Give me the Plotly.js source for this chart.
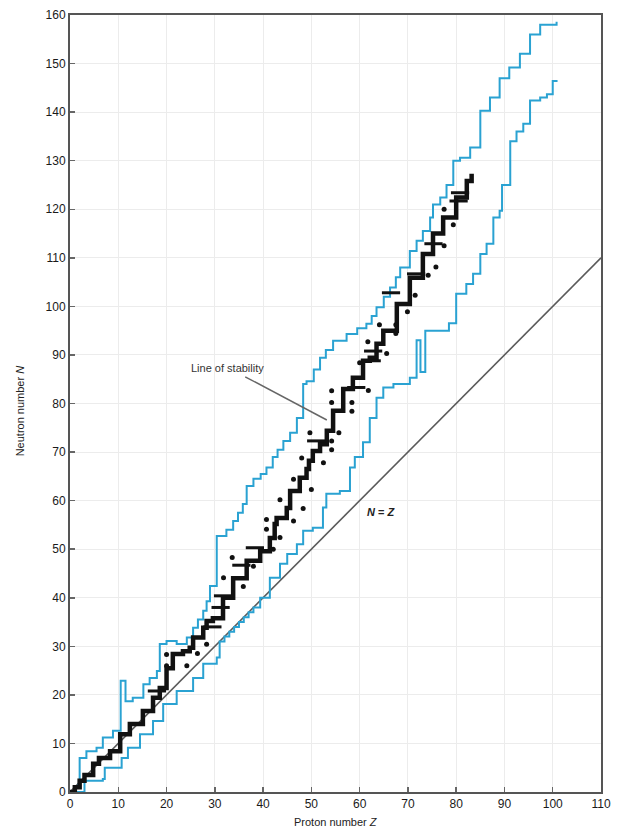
<!DOCTYPE html>
<html>
<head>
<meta charset="utf-8">
<script src="https://cdn.plot.ly/plotly-3.0.1.min.js"></script>
<style>html,body{margin:0;padding:0;background:#fff;}#chart{width:617px;height:831px;}</style>
</head>
<body>
<div id="chart"></div>
<script>
// Upper limit of known nuclides (blue)
var upperZ = [1.5,2,3.4,5.5,6.8,8.9,10.5,10.5,11.5,11.5,13,15.2,16.5,18,18.6,20,22.1,24.2,25.5,26.5,27.6,28.3,29,30.4,30.4,32.4,33.8,34.8,35.8,36.6,38,39.5,40.7,42,43,44.2,45.6,47,48.3,49,50.5,51.8,53,54.5,57.3,59.5,61.4,62.5,63.5,65,66.3,67.5,68.4,70.4,71.8,73.1,74.6,75.2,76.7,78,79.4,80.8,82.9,85,87,89,91,93.2,95.3,97.4,100.8];
var upperN = [1.5,7,8.4,9.1,11.2,12.6,14.6,22.9,22.9,18.7,19.4,22.2,23.5,24.9,30.5,31.1,30.5,31.8,33.8,35.5,37.3,39.3,42.4,46.2,52.7,54,55.8,57.5,59.3,63,64.5,65.5,66.8,69,70.5,72.3,74,77,84,84.6,87,89.4,91,92.9,94.3,95.5,96.4,98,99.8,102,103.9,106,108,111.4,113.5,115.5,118.3,121,122.4,125,130,130.6,132.7,140.3,143,147,149.2,152,156,158,158.6];

// Lower limit of known nuclides (blue)
var lowerZ = [1,3,6.8,7.2,10.7,12,14.5,17.2,19.3,22.1,25.5,27.6,30.4,31,32,33,34,35,36,37,38,39.4,41.4,43.5,45,47,48.3,50.3,52.4,53.1,55.9,58,59,60.7,62.1,63.5,64.9,67,70.4,71.8,71.8,72.6,72.6,73.6,73.6,77.3,78.5,80,80,82.1,83.5,85,86.3,87.7,89,89.5,91.2,91.2,92.5,93.9,95.3,97.4,98.8,100,101];
var lowerN = [0,2.3,2.7,5,7,9.1,11.9,14.6,18.1,20.8,23.5,26.4,27.7,31,32,33,34,35,36,37,38,40,44.1,47,49,51,53.8,54.4,58.6,61.4,62,66.8,69,72,77,81.2,83.3,84,85.3,86.7,93,93,86.5,86.5,95,95,96.5,97.7,102.6,104.6,106.7,110.8,112.9,118.3,119.7,125,125,134,136,137.6,142.4,143,143.7,146.4,146.4];

// Stable nuclides band (black staircase)
var stableZ = [0,1,2,3,4.8,6,8.3,10.4,12.4,15.1,17.2,18.6,20,21.3,23.4,24.8,25.5,27.6,28.3,29.6,31.7,31.7,33.8,36.6,39.4,41.4,42.4,42.8,44.9,45.6,47.6,49,49.5,50.3,51.8,53.2,54.5,56.6,58.6,60.7,62.1,63.5,64.9,67.7,70.4,73.1,75.2,77.3,80,82.2,83.2];
var stableN = [0,1,2.3,3.5,5.8,7,8.4,11.9,14,16.7,19.4,21.4,25.5,28.4,29,29.7,31.8,33.8,35.2,35.8,38.5,40,44,47.6,49.6,52.3,55.2,56.4,58.5,62,64.7,66.5,68.2,70.2,71.6,74.4,78.5,83,85.3,88.8,89.4,92.3,95,100.5,105.9,110.8,115,118.3,122.4,125.8,127.3];

// Isotone dashes on the band
var dashZ = [18,29.5,31.2,31.7,35.5,38.3,51,59.3,62.5,62.8,66.5,71.7,75.3,80.5,80.8];
var dashN = [20.8,34,38,40.4,46.7,50.3,72.3,83.3,88.8,90.8,102.8,106.7,112.9,121.7,123.4];

// Long-lived isotopes (dots)
var dotZ = [20,20,24.2,26.4,28.3,31.8,35.9,33.6,38,42.1,43.5,40.7,40.7,46.3,48.3,43.5,50,46.3,48,52.5,49.7,54.2,54.2,55.7,54.2,54.2,58.4,58.4,61.8,60,65.6,61.7,64.1,67.5,67.5,69.9,71.5,74.2,75.8,77.5,79.4,77.5];
var dotN = [28.3,26,26,28.5,30.4,44.1,42.3,48.3,46.5,50,52.4,54.1,56.1,55.8,58.4,60.2,62.3,64.4,68.8,67.8,74,72.3,70.5,74,80.2,82.6,80.2,78.4,82.7,88.4,90.3,92.7,96.2,96.2,94.4,98.9,102.3,106.4,108.1,112.5,116.8,120];

// N = Z reference
var nzZ = [0,110];
var nzN = [0,110];

var xTicks = [0,10,20,30,40,50,60,70,80,90,100,110];
var yTicks = [0,10,20,30,40,50,60,70,80,90,100,110,120,130,140,150,160];

var blue = '#2aa2d2';
var traces = [
  {x: nzZ, y: nzN, mode: 'lines', line: {color: '#5a5a5a', width: 1.6}, hoverinfo: 'skip'},
  {x: upperZ, y: upperN, mode: 'lines', line: {color: blue, width: 2, shape: 'hv'}},
  {x: lowerZ, y: lowerN, mode: 'lines', line: {color: blue, width: 2, shape: 'hv'}},
  {x: stableZ, y: stableN, mode: 'lines', line: {color: '#111', width: 4.5, shape: 'hv'}},
  {x: dashZ, y: dashN, mode: 'markers', marker: {symbol: 'line-ew', size: 13, line: {color: '#111', width: 3}}},
  {x: dotZ, y: dotN, mode: 'markers', marker: {symbol: 'circle', size: 5, color: '#111'}}
];

var font = {family: 'Liberation Sans, Arial, sans-serif', size: 12, color: '#1a1a1a'};
var layout = {
  width: 617, height: 831,
  margin: {l: 70, r: 16, t: 15, b: 39},
  paper_bgcolor: '#fff', plot_bgcolor: '#fff',
  showlegend: false,
  font: font,
  xaxis: {range: [0,110], tickvals: xTicks, ticktext: xTicks.map(String), ticks: 'inside', ticklen: 5, tickwidth: 1.5, tickcolor: '#666',
          showline: true, mirror: true, linecolor: '#555', linewidth: 2, showgrid: true, gridcolor: '#ececec', gridwidth: 1, zeroline: false, fixedrange: true},
  yaxis: {range: [0,160], tickvals: yTicks, ticktext: yTicks.map(String), ticks: 'inside', ticklen: 5, tickwidth: 1.5, tickcolor: '#666',
          showline: true, mirror: true, linecolor: '#555', linewidth: 2, showgrid: true, gridcolor: '#ececec', gridwidth: 1, zeroline: false, fixedrange: true},
  shapes: [
    {type: 'line', xref: 'x', yref: 'y', x0: 36.3, y0: 85.5, x1: 53.2, y1: 76.6, line: {color: '#666', width: 1.5}}
  ],
  annotations: [
    {xref: 'paper', yref: 'paper', x: -0.094, y: 0.49, text: 'Neutron number <i>N</i>', textangle: -90, showarrow: false, font: {family: font.family, size: 11, color: '#222'}, xanchor: 'center', yanchor: 'middle'},
    {xref: 'paper', yref: 'paper', x: 0.5, y: -0.038, text: 'Proton number <i>Z</i>', showarrow: false, font: {family: font.family, size: 11, color: '#222'}, xanchor: 'center', yanchor: 'middle'},
    {xref: 'x', yref: 'y', x: 32.7, y: 87.3, text: 'Line of stability', showarrow: false, font: {family: font.family, size: 11, color: '#333'}},
    {xref: 'x', yref: 'y', x: 64.6, y: 57.7, text: '<b><i>N</i> = <i>Z</i></b>', showarrow: false, font: {family: font.family, size: 11, color: '#222'}}
  ]
};

Plotly.newPlot('chart', traces, layout, {displayModeBar: false, staticPlot: true});
</script>
</body>
</html>
